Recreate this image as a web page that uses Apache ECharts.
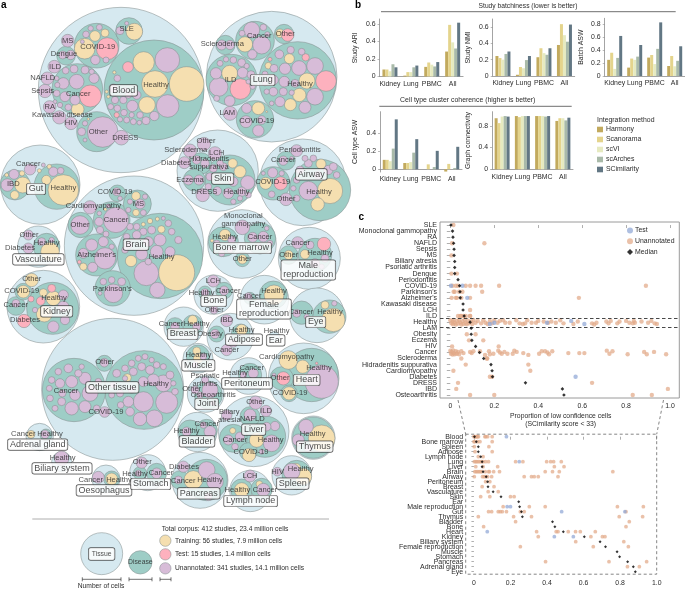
<!DOCTYPE html>
<html><head><meta charset="utf-8">
<style>html,body{margin:0;padding:0;background:#fff}#c{width:685px;height:589px}</style>
<script src="https://cdn.jsdelivr.net/npm/echarts@6/dist/echarts.min.js"></script>
</head><body><div id="c"></div>
<script>
// ---------- Panel a: bubbles [x, y, r, kind], kind 0 tissue,1 disease,2 training,3 test,4 unannotated
// units are thirds of a pixel on the hidden pack axes
const packUpper = [
[363,270,248,0],[815,230,196,0],
[462,270,150,1],[431,187,32,2],[502,180,37,4],[560,252,52,2],[465,252,40,2],[384,201,16,3],[503,318,34,4],[441,315,25,2],[397,318,17,4],[340,265,13,4],[352,235,10,4],[343,217,5,2],[345,300,11,4],[370,300,11,4],[332,320,9,4],[352,325,10,4],[372,338,10,4],[350,345,8,3],[380,360,9,4],[360,358,8,4],[400,365,9,4],[420,345,10,4],[438,362,12,4],[463,348,14,4],[418,368,7,4],[325,290,5,2],[320,275,5,2],[395,345,8,4],[410,285,13,4],[385,285,10,4],[375,270,8,4],
[232,267,76,1],[271,288,33,3],[233,328,19,2],[230,245,22,4],[190,250,17,4],[222,207,12,4],[255,210,12,4],[197,212,10,4],[282,235,15,4],[172,255,8,4],[170,235,7,4],[275,215,8,4],[170,280,10,4],[195,290,15,4],[225,300,15,4],[180,315,8,4],[205,322,10,4],[165,305,6,4],
[290,137,67,1],[322,146,33,3],[254,146,31,2],[285,108,16,2],[315,99,12,2],[286,180,14,4],[258,103,10,4],[272,85,8,4],[298,82,9,4],[318,180,9,4],[247,125,6,4],
[387,93,40,1],[403,95,25,2],[360,92,12,4],[380,70,6,4],
[290,395,60,1],[308,396,46,4],[245,395,12,4],[255,370,8,4],[255,420,6,4],[265,357,4,2],
[203,122,19,4],[198,167,28,1],[212,165,14,4],[188,165,12,4],[163,200,19,4],[142,235,19,4],[135,273,20,4],[149,321,19,4],[178,352,20,4],[213,370,19,4],[364,413,22,4],
[893,241,116,1],[978,243,31,3],[945,198,25,4],[921,243,24,2],[917,172,11,3],[897,204,22,4],[868,176,15,2],[872,150,11,4],[838,163,13,4],[905,155,10,4],[855,206,17,4],[810,178,6,3],[805,197,10,2],[822,205,12,4],[795,222,9,4],[820,240,15,4],[853,245,16,4],[795,250,8,4],[885,250,12,4],[898,285,20,2],[945,290,25,4],[915,322,18,4],[871,314,18,2],[840,305,15,4],[820,275,13,4],[850,275,12,4],[800,275,8,4],[815,310,7,4],[875,278,8,4],
[695,240,77,1],[721,267,31,3],[689,220,24,2],[656,261,28,4],[648,220,17,4],[689,303,16,4],[728,218,16,4],[700,180,10,4],[678,178,8,4],[660,190,9,4],[725,188,12,4],[753,224,12,4],[758,260,8,4],[650,295,9,4],[745,245,7,4],[740,198,8,4],
[765,122,58,1],[755,90,24,4],[735,133,23,2],[785,135,27,4],[757,163,14,4],[790,82,10,4],[726,100,9,4],[802,103,8,4],
[852,102,29,1],[863,105,19,3],[840,100,13,2],
[676,135,29,1],[665,135,15,4],[690,135,14,4],
[765,358,56,1],[775,325,19,2],[775,392,17,4],[740,325,15,4],[738,365,18,4],[785,360,13,4],[800,335,3,2],[690,340,21,4]
];
const packMiddle = [
[653,122,122,0],[908,157,130,0],[121,164,119,0],[402,347,209,0],[726,342,103,0],[928,385,93,0],[115,350,62,0],[130,530,109,0],[641,494,59,0],[793,509,73,0],[951,556,82,0],[551,590,59,0],[691,620,70,0],[823,620,16,0],
[690,150,75,1],[720,125,18,2],[698,100,14,2],[743,158,21,4],[700,155,14,4],[670,110,12,4],[640,115,12,4],[630,140,12,4],[660,100,10,4],[685,190,16,4],[725,185,14,4],[652,183,13,4],[745,195,9,4],[720,205,8,4],[625,170,10,4],[700,215,8,4],
[570,62,20,4],[612,42,20,4],[645,70,20,4],[603,100,32,1],[590,90,13,4],[615,100,13,4],[553,98,18,4],[583,150,33,1],[565,150,15,4],[597,150,15,4],[608,195,20,4],
[960,180,92,1],[990,183,38,2],[953,223,20,2],[963,102,15,2],[925,182,28,4],[900,120,12,4],[925,100,12,4],[940,85,10,4],[915,85,9,4],[985,120,14,4],[955,135,12,4],[890,150,10,4],[880,175,8,4],[890,205,10,4],[1000,110,12,4],[1010,135,10,4],
[820,160,50,1],[842,160,20,3],[797,160,18,2],[818,128,15,4],[845,130,8,4],[815,193,10,4],[790,130,6,4],
[858,92,28,1],[850,92,14,4],[875,85,6,4],[890,62,18,4],[858,208,19,4],
[170,170,68,1],[190,180,46,2],[160,125,14,4],[182,122,10,4],[139,150,14,2],[148,110,7,2],[118,122,6,2],[130,105,6,4],[105,110,5,4],
[45,165,45,1],[68,165,24,2],[22,165,19,4],[42,133,15,4],[44,195,13,2],[66,130,8,2],[20,135,6,2],[90,118,17,4],
[480,378,128,1],[530,428,54,2],[439,430,37,4],[472,480,23,4],[393,393,17,2],[484,298,11,2],[450,273,8,2],[472,267,6,2],[430,283,6,2],[505,280,10,4],[490,265,6,4],[410,290,10,4],[390,290,10,4],[430,305,11,4],[455,300,12,4],[410,315,13,4],[380,320,10,4],[385,345,12,4],[480,330,18,4],[515,305,10,4],[535,330,11,4],[445,335,15,4],[425,372,18,4],[470,365,19,4],[510,365,15,4],[375,360,10,4],[445,395,10,4],
[335,270,55,1],[348,270,38,4],[297,275,13,4],[300,300,11,4],[318,312,9,4],[298,250,7,4],[316,238,5,2],[325,228,7,4],
[412,222,42,1],[408,198,13,2],[408,248,10,2],[420,222,15,4],[390,215,8,4],[385,240,8,4],[430,248,9,4],[435,200,8,4],
[352,190,25,1],[350,185,12,4],[360,205,7,4],[270,232,20,4],[242,285,38,1],[240,285,28,4],
[290,375,63,1],[315,385,32,4],[275,345,18,4],[310,335,15,4],[250,410,11,2],[238,396,6,3],[278,412,15,4],[250,370,15,4],[335,350,8,4],
[338,475,53,1],[340,490,28,4],[310,455,10,4],[365,455,12,4],[335,450,10,4],[300,490,6,4],
[670,335,45,1],[675,315,17,2],[695,330,12,4],[650,340,10,4],[665,370,10,4],[690,360,9,4],[636,332,5,2],
[780,325,47,1],[758,322,15,4],[790,320,16,4],[775,350,10,4],[810,340,9,4],[800,295,7,4],[727,292,22,4],[727,388,22,1],[727,388,14,2],
[945,375,50,1],[972,342,20,3],[915,373,14,2],[930,345,12,4],[945,400,14,4],[975,385,12,4],[965,410,8,4],[866,375,28,1],[866,375,14,2],[893,338,18,4],
[140,350,40,1],[150,365,28,2],[125,335,12,4],[155,330,8,4],[85,315,15,4],[85,355,16,4],
[158,535,78,1],[155,475,12,3],[122,513,13,3],[93,507,9,3],[133,552,24,2],[130,488,12,2],[160,505,22,2],[190,495,15,4],[190,530,17,4],[160,590,17,4],[195,570,14,4],[105,540,8,4],
[48,528,28,1],[48,520,12,4],[70,485,25,1],[70,485,19,2],[95,450,20,2],[72,573,20,3],
[640,453,18,4],[615,488,20,1],[615,488,12,4],[672,482,25,1],[672,482,14,4],[642,540,12,4],
[820,495,42,1],[822,495,30,2],[750,505,18,1],[745,500,12,4],
[988,560,50,1],[1000,570,35,2],[975,525,12,2],[1003,520,8,4],[905,548,35,1],[890,550,12,4],[920,560,8,4],
[525,590,27,1],[525,590,13,4],[578,585,30,1],[578,570,14,2],[590,590,12,4],
[680,572,18,4],[650,612,24,1],[645,612,14,4],[722,610,28,1],[725,600,17,2],[680,660,17,4],[700,640,12,4]
];
const packLower = [
[338,148,213,0],[594,55,45,0],[745,108,55,0],[911,115,106,0],[617,162,55,0],[761,274,106,0],[592,276,59,0],[940,293,65,0],[119,291,41,0],[185,365,30,0],[318,417,42,0],[443,398,54,0],[600,421,84,0],[751,453,62,0],[875,406,59,0],
[432,150,118,1],[500,187,33,4],[430,185,30,4],[463,235,25,4],[420,237,20,4],[490,130,25,4],[460,120,18,4],[385,185,16,4],[350,100,12,4],[375,85,10,4],[395,70,10,4],[415,55,9,4],[435,50,9,4],[455,60,8,4],[470,75,10,4],[490,80,9,4],[510,105,12,4],[520,130,8,4],[525,155,10,4],[375,115,8,4],[400,95,12,4],[425,80,12,4],[450,90,13,4],[382,113,12,2],[430,125,15,4],[340,135,10,4],[335,165,9,4],[360,160,11,4],[395,150,10,4],[390,215,13,4],[362,195,10,4],
[222,150,95,1],[255,200,18,4],[215,125,18,4],[215,205,20,4],[255,115,18,4],[270,160,24,4],[180,130,14,4],[155,120,10,4],[205,85,13,4],[235,100,11,4],[175,95,10,4],[148,145,9,4],[185,185,12,4],[150,175,10,4],[165,205,9,4],[225,165,16,4],[187,160,11,4],[290,205,10,4],[295,125,10,4],[245,80,8,4],
[314,216,16,4],[313,70,24,1],[313,68,13,4],
[594,50,35,1],[590,33,12,2],[595,55,15,2],[610,50,10,4],[585,75,10,4],
[750,105,35,1],[760,100,15,4],[730,105,10,4],
[935,105,80,1],[965,125,50,4],[908,80,20,2],[892,120,12,2],[865,60,28,2],[845,115,35,1],[850,115,20,3],[867,160,25,1],[867,160,20,2],[822,105,6,4],[950,70,4,3],
[625,165,42,1],[630,150,24,4],[600,165,10,4],[640,190,8,4],[585,150,12,4],[615,120,11,4],
[795,290,62,1],[770,300,22,2],[825,258,14,4],[815,310,25,4],[800,260,13,4],[785,335,8,4],
[700,295,42,1],[698,272,9,2],[685,300,15,4],[720,290,14,4],[705,320,10,4],[745,335,27,1],[747,345,20,2],[798,213,17,4],[767,188,20,4],[680,225,16,4],[750,230,30,1],[750,225,18,4],
[570,275,35,1],[560,275,14,4],[620,270,32,1],[630,275,18,4],[610,255,10,4],
[940,293,62,1],[965,295,40,2],[895,300,18,4],[918,260,22,4],[925,325,12,4],
[93,283,12,2],[138,285,18,1],[135,283,13,4],[185,355,22,4],
[335,417,24,1],[335,417,18,2],[295,412,18,4],[425,368,17,4],[420,400,20,1],[415,400,10,4],[470,400,30,1],[470,400,16,4],
[620,420,62,1],[580,420,28,2],[620,390,25,4],[645,425,25,4],[625,470,12,4],[550,380,17,4],[540,420,28,1],[535,420,12,4],
[750,408,18,4],[725,450,33,1],[725,450,22,2],[785,447,32,1],[790,450,20,4],[778,432,10,2],
[890,405,44,1],[910,410,25,2],[875,395,25,4],[888,385,15,2],[832,395,13,4]
];
// Key bubbles below panel a, in the same lower frame
const keyBubbles = [[305,641,63,0],[421,667,35,1],[496,602,17,2],[496,643,17,3],[496,685,17,4]];

// Text of panel a [text, x, y], tissue names in a box
const labelsUpper = [["SLE",380,88],["COVID-19",293,141],["MS",203,122],["Dengue",192,163],["ILD",165,202],["NAFLD",128,233],["Sepsis",128,272],["Cancer",235,281],["RA",149,320],["Kawasaki disease",187,344],["HIV",213,370],["Other",295,397],["DRESS",376,414],["Healthy",468,254],["Scleroderma",667,132],["Cancer",778,109],["Other",856,101],["ILD",692,240],["Healthy",900,251],["LAM",682,340],["COVID-19",770,364]];
const labelsMiddle = [["Other",618,33],["Scleroderma",557,60],["LCH",650,70],["Diabetes",528,98],["Hidradenitis\nsuppurativa",627,98],["Eczema",570,150],["Healthy",710,185],["DRESS",613,187],["Periodontitis",900,60],["Cancer",850,91],["COVID-19",818,155],["Healthy",957,187],["Other",858,207],["Cancer",85,102],["IBD",40,162],["Healthy",190,174],["COVID-19",345,186],["MS",415,222],["Cardiomyopathy",280,227],["Cancer",348,271],["Other",240,286],["Alzheimer's",290,375],["Healthy",485,382],["Parkinson's",337,476],["Monoclonal\ngammopathy",730,270],["Healthy",675,322],["Cancer",780,321],["Other",727,386],["Cancer",893,338],["Other",866,375],["Healthy",960,368],["Other",87,314],["Healthy",140,338],["Diabetes",60,355],["Other",95,447],["COVID-19",65,483],["Healthy",162,503],["Cancer",47,526],["Diabetes",75,571],["LCH",640,453],["Healthy",605,488],["Cancer",685,484],["Other",643,540],["Healthy",822,483],["Cancer",748,498],["Cancer",903,546],["Healthy",990,546],["Cancer",513,581],["Healthy",590,581],["IBD",680,571],["Healthy",725,600],["Obesity",630,613],["Cancer",680,659],["Healthy",830,604]];
const labelsLower = [["Other",314,65],["Healthy",468,131],["Cancer",198,153],["COVID-19",318,216],["Healthy",595,45],["Cardiomyopathy",860,50],["Healthy",957,83],["Other",840,115],["COVID-19",870,160],["Cancer",755,84],["Healthy",705,100],["Psoriatic\narthritis",615,120],["Other",575,148],["Osteoarthritis",640,165],["Other",767,187],["ILD",798,213],["Biliary\natresia",688,228],["NAFLD",757,236],["Cancer",705,300],["Healthy",812,299],["COVID-19",753,335],["Cancer",620,253],["Healthy",560,274],["Healthy",938,281],["Cancer",70,282],["Healthy",150,282],["Healthy",188,355],["Cancer",272,419],["Healthy",357,419],["Other",427,366],["Healthy",405,401],["Cancer",483,400],["Diabetes",552,381],["Cancer",550,423],["Healthy",630,420],["LCH",750,408],["Healthy",712,450],["Cancer",795,450],["HIV",833,395],["Healthy",902,388]];
const tissueBoxesMiddle = [["Skin",668,146],["Airway",934,133],["Gut",108,177],["Brain",408,344],["Bone marrow",727,354],["Male\nreproduction",925,420],["Vasculature",115,388],["Kidney",170,544],["Bone",641,513],["Female\nreproduction",792,537],["Eye",947,576],["Breast",548,612],["Adipose",732,629],["Ear",827,631]];
const tissueBoxesUpper = [["Blood",371,271],["Lung",788,240]];
const tissueBoxesLower = [["Other tissue",337,142],["Muscle",595,76],["Heart",920,120],["Peritoneum",741,130],["Joint",620,192],["Liver",761,269],["Bladder",591,304],["Thymus",944,320],["Adrenal gland",113,314],["Biliary system",186,385],["Oesophagus",312,451],["Stomach",452,432],["Pancreas",596,460],["Lymph node",752,483],["Spleen",878,431]];

// ---------- Panel b
const methods = ["Harmony","Scanorama","scVI","scArches","SCimilarity"];
const datasets = ["Kidney","Lung","PBMC","All"];
const studyAri = [[.08,.01,.11,.285],[.08,.05,.16,.59],[.06,.05,.135,.39],[.14,.105,.115,.32],[.105,.125,.165,.615]];
const studyNmi = [[.245,.015,.23,.38],[.22,.11,.34,.635],[.2,.095,.28,.5],[.27,.195,.26,.42],[.3,.245,.34,.63]];
const batchAsw = [[.25,.13,.285,.155],[.36,.27,.325,.31],[.11,.25,.185,.15],[.28,.3,.42,.235],[.62,.48,.83,.46]];
const cellTypeAsw = [[.105,.07,0,-.025],[.105,.07,.055,.06],[.09,.08,0,0],[.23,.185,.025,.015],[.555,.335,.205,.25]];
const graphConn = [[.94,.98,.98,.89],[.85,.96,.98,.94],[.97,.98,.98,.94],[.98,.98,.97,.9],[.97,.98,.98,.95]];

// ---------- Panel c, upper: diseases
const diseaseRows = ["SLE","Monoclonal gammopathy","RA","NAFLD","Sepsis","MS","Biliary atresia","Psoriatic arthritis","Dengue","Periodontitis","COVID-19","Parkinson's","Alzheimer's","Kawasaki disease","LCH","ILD","Healthy","LAM","Obesity","Eczema","HIV","Cancer","Scleroderma","Hidradenitis suppurativa","Cardiomyopathy","Diabetes","DRESS","IBD","Osteoarthritis"];
const diseaseMedian = [.003,.01,.012,.015,.017,.017,.02,.02,.02,.035,.042,.044,.045,.058,.058,.063,.09,.095,.095,.098,.115,.133,.152,.185,.19,.192,.342,.51,.517];
const diseaseUnannotated = [[.014],[],[],[.008,.155],[],[.005],[],[],[.005,.03],[],[.01,.025,.035,.07,.09,.115,.14,.222,.89],[.015,.02,.04,.055,.145],[.006,.025,.03,.05,.09,.585],[],[.09],[.035,.045,.05,.06,.07,.09,.09],[],[],[.075,.115],[.085,.15],[.008,.22],[],[.05,.168],[.07,.355],[.014,.364],[.18,.19],[.035,.645],[.027,.99],[.09,.2,.83,.917]];
const diseaseTest = [[.003,10],[.055,10],[.077,12],[.57,25]];
const healthyUnannotated = [[0,-.3],[.005,.2],[.01,-.1],[.012,.35],[.015,-.35],[.02,.1],[.025,.4],[.03,-.2],[.035,.25],[.04,-.35],[.045,.05],[.05,.4],[.055,-.15],[.06,.3],[.065,-.4],[.07,.1],[.075,.35],[.08,-.25],[.085,.2],[.095,-.1],[.1,.3],[.105,-.35],[.115,.1],[.125,-.2],[.14,.2],[.15,-.3],[.16,.1],[.17,.3],[.18,-.2],[.19,.2],[.2,-.3],[.215,.1],[.225,-.2],[.24,-.3],[.25,.1],[.27,.1],[.3,-.3],[.315,.2],[.33,.3],[.34,.2],[.35,-.3],[.37,.1],[.39,.1],[.4,-.2],[.425,-.1],[.445,.1],[.46,-.1],[.48,.1],[.5,-.3],[.515,.2],[.56,.3],[.58,-.1],[.645,.2],[.655,.4],[.665,.1],[.71,-.1],[.72,.2],[.73,-.2],[.76,.2],[.77,-.1],[.8,-.2],[.815,.1],[.83,.2],[.835,-.2],[.84,.1],[.87,-.1],[.9,.1],[.915,-.2],[.93,.2],[.94,.3]];
const healthyTest = [[.18,.3],[.2,.1],[.44,.1],[.55,-.2],[.61,.3]];
const cancerUnannotated = [[0,-.3],[.003,.2],[.006,-.1],[.01,.35],[.013,-.35],[.016,.1],[.02,.3],[.025,-.2],[.03,.2],[.035,-.1],[.04,.3],[.05,-.2],[.06,.1],[.09,-.1],[.097,.1],[.105,-.2],[.135,-.2],[.158,.4],[.166,1],[.176,-.2],[.18,.3],[.196,.2],[.218,-.3],[.226,0],[.234,.2],[.246,-.1],[.26,.2],[.284,.2],[.291,-.3],[.302,-.1],[.332,.1],[.355,.4],[.404,.2],[.416,-.2],[.431,-.2],[.442,0],[.449,.3],[.464,-.2],[.537,.1],[.587,.1],[.61,.1],[.712,-.3],[.724,.2],[.738,-.2],[.807,.3],[.882,-.1],[.894,.3],[.927,-.1],[.982,.3]];

// ---------- Panel c, lower: tissues
const tissueRows = ["Blood","Bone marrow","Spleen","Adipose","Lymph node","Lung","Liver","Brain","Airway","Peritoneum","Breast","Vasculature","Skin","Ear","Male reproduction","Gut","Thymus","Bladder","Bone","Heart","Kidney","Biliary system","Female reproduction","Muscle","Stomach","Pancreas","Adrenal gland","Eye"];
const tissueMedian = [.003,.013,.024,.024,.037,.045,.045,.05,.067,.075,.077,.105,.148,.245,.25,.26,.265,.43,.443,.489,.604,.69,.72,.783,.797,.841,.872,.883];
const tissueUnannotated = [[0,.005,.01,.015,.02,.025,.06,.065,.075,.1],[0,.005,.02,.033,.1],[.002,.082],[.006,.1],[.024,.05],[.002,.01,.016,.024,.033,.042,.05,.064,.08,.228,.268,.398,.42,.436,.478],[.01,.05,.13,.44,.493],[.005,.012,.02,.028,.036,.044,.062,.08,.085,.108,.14,.39,.43,.467,.76],[.002,.047,.056,.064,.075,.097,.275,.315,.33,.352,.46],[.064,.087],[.045,.11],[.078,.133],[.037,.087,.2,.22],[],[.16,.303,.39,.785,.927],[.08,.097,.133,.144,.155,.178,.254,.275,.832],[.024,.217,.315,.795,.923],[.228,.85],[.053,.832],[.343,.45,.46,.516,.556,.582,.664],[.352,.64,.703,.717],[.557,.82],[.254,.653,.845],[],[],[.392,.739,.945],[.84,.905],[]];
const tissueTest = [[.178,0],[.248,5],[.182,14],[.2,14],[.48,15],[.826,15],[.073,19],[.44,20],[.544,20]];

// ---------- Drawing
const FONT = '"Liberation Sans",Arial,sans-serif';
const INK = '#2b2b2b', AXIS = '#8d8d8d';
const BUBBLE = ['#d6e9f0','#9ecdc6','#f5dfb0','#fdb1be','#d7bcd8'];
const BARS = ['#c2aa5e','#e4d48c','#e6eac0','#a9baa9','#627784'];
const DOT = '#e2a988', DOT_TEST = '#8fa6d6';

const allBubbles = [
  ...packUpper,
  ...packMiddle.map(b=>[b[0],b[1]+390,b[2],b[3]]),
  ...packLower.map(b=>[b[0],b[1]+1020,b[2],b[3]]),
  ...keyBubbles.map(b=>[b[0],b[1]+1020,b[2],b[3]])
];
const series = [];
[0,1,2,3,4].forEach(k=>{
  series.push({type:'scatter',xAxisIndex:0,yAxisIndex:0,silent:true,z:2+k,
    data:allBubbles.filter(b=>b[3]===k).map(b=>[b[0],b[1],b[2]]),
    symbolSize:v=>v[2]*2/3,
    itemStyle:{color:BUBBLE[k],borderColor:'#84908f',borderWidth:.55,opacity:1}});
});
const plainLabels = [
  ...labelsUpper,
  ...labelsMiddle.map(l=>[l[0],l[1],l[2]+390]),
  ...labelsLower.map(l=>[l[0],l[1],l[2]+1020])
];
const boxLabels = [
  ...tissueBoxesUpper,
  ...tissueBoxesMiddle.map(l=>[l[0],l[1],l[2]+390]),
  ...tissueBoxesLower.map(l=>[l[0],l[1],l[2]+1020])
];
series.push({type:'scatter',xAxisIndex:0,yAxisIndex:0,silent:true,z:10,symbolSize:1,
  itemStyle:{color:'transparent'},
  data:plainLabels.map(l=>({value:[l[1],l[2]],name:l[0]})),
  label:{show:true,position:'inside',formatter:'{b}',fontFamily:FONT,fontSize:7.6,lineHeight:7.8,color:'#1f1f1f',align:'center',verticalAlign:'middle'},
  labelLayout:{hideOverlap:false}});
series.push({type:'scatter',xAxisIndex:0,yAxisIndex:0,silent:true,z:11,symbolSize:1,
  itemStyle:{color:'transparent'},
  data:boxLabels.map(l=>({value:[l[1],l[2]],name:l[0]})),
  label:{show:true,position:'inside',formatter:'{b}',fontFamily:FONT,fontSize:9,lineHeight:8.8,color:'#1a1a1a',align:'center',verticalAlign:'middle',
    backgroundColor:'#fff',borderColor:'#333',borderWidth:.7,borderRadius:2,padding:[1,2]}});
// key labels
series.push({type:'scatter',xAxisIndex:0,yAxisIndex:0,silent:true,z:11,symbolSize:1,itemStyle:{color:'transparent'},
  data:[{value:[305,1662],name:'Tissue'}],
  label:{show:true,position:'inside',formatter:'{b}',fontFamily:FONT,fontSize:6.8,color:'#222',backgroundColor:'#fff',borderColor:'#333',borderWidth:.7,borderRadius:2,padding:[2.5,3]}});
series.push({type:'scatter',xAxisIndex:0,yAxisIndex:0,silent:true,z:11,symbolSize:1,itemStyle:{color:'transparent'},
  data:[{value:[421,1687],name:'Disease'}],
  label:{show:true,position:'inside',formatter:'{b}',fontFamily:FONT,fontSize:6.8,color:'#222'}});

const bars = [
  {d:studyAri,name:'Study ARI',left:379.5,top:19,w:83.6,h:57.5,min:0,max:.657,ticks:[0,.2,.4,.6],gap:21},
  {d:studyNmi,name:'Study NMI',left:492.7,top:19,w:82,h:57,min:0,max:.698,ticks:[0,.2,.4,.6],gap:21},
  {d:batchAsw,name:'Batch ASW',left:604.7,top:18.3,w:80,h:57.7,min:0,max:.893,ticks:[0,.2,.4,.6,.8],gap:20},
  {d:cellTypeAsw,name:'Cell type ASW',left:380,top:111.7,w:82,h:60.3,min:-.03,max:.64,ticks:[0,.2,.4],gap:21.5},
  {d:graphConn,name:'Graph connectivity',left:492,top:111.7,w:81,h:57.6,min:0,max:1.06,ticks:[0,.4,.8],gap:20}
];
const grids=[{left:0,top:0,width:685,height:589}], xAxes=[{gridIndex:0,type:'value',min:0,max:2055,show:false}], yAxes=[{gridIndex:0,type:'value',min:0,max:1767,inverse:true,show:false}];
const tick2 = v=> v===0?'0':(+v).toFixed(1);
bars.forEach((b,i)=>{
  const g=grids.length;
  grids.push({left:b.left,top:b.top,width:b.w,height:b.h});
  xAxes.push({gridIndex:g,type:'category',data:datasets,axisTick:{show:false},
    axisLine:{onZero:true,lineStyle:{color:AXIS,width:.8}},
    axisLabel:{fontFamily:FONT,fontSize:6.9,color:INK,margin:4,interval:0,hideOverlap:false}});
  yAxes.push({gridIndex:g,type:'value',min:b.min,max:b.max,splitLine:{show:false},
    name:b.name,nameLocation:'middle',nameGap:b.gap,nameTextStyle:{fontFamily:FONT,fontSize:6.9,color:INK},
    axisLine:{show:true,lineStyle:{color:AXIS,width:.8}},
    axisTick:{show:true,length:2,lineStyle:{color:AXIS,width:.6},customValues:b.ticks},
    axisLabel:{fontFamily:FONT,fontSize:6.9,color:INK,margin:4,customValues:b.ticks,formatter:tick2}});
  methods.forEach((m,j)=>{
    series.push({type:'bar',name:m,xAxisIndex:g,yAxisIndex:g,data:b.d[j],barWidth:3,barGap:'0%',silent:true,
      itemStyle:{color:BARS[j]},z:3});
  });
});

// Upper scatter
const gT=grids.length;
grids.push({left:440,top:222,width:239.3,height:176,show:true,borderColor:'#9a9a9a',borderWidth:1,backgroundColor:'transparent'});
const xt={fontFamily:FONT,fontSize:6.9,color:INK,margin:5,customValues:[0,.2,.4,.6,.8,1],formatter:tick2};
xAxes.push({gridIndex:gT,type:'value',min:-.047,max:1.042,splitLine:{show:false},axisLine:{show:false},
  axisTick:{show:true,length:3,lineStyle:{color:AXIS,width:.7},customValues:[0,.2,.4,.6,.8,1]},axisLabel:xt});
const yT=yAxes.length;
yAxes.push({gridIndex:gT,type:'category',inverse:true,data:diseaseRows,splitLine:{show:false},axisLine:{show:false},
  axisTick:{show:true,alignWithLabel:true,length:3.5,lineStyle:{color:AXIS,width:.7}},
  axisLabel:{fontFamily:FONT,fontSize:7,color:INK,margin:3,interval:0,hideOverlap:false}});
yAxes.push({gridIndex:gT,type:'value',inverse:true,min:-.5,max:28.5,show:false});
const tUn=[];diseaseUnannotated.forEach((r,i)=>r.forEach(x=>tUn.push([x,i])));
healthyUnannotated.forEach(p=>tUn.push([p[0],16+p[1]]));
cancerUnannotated.forEach(p=>tUn.push([p[0],21+p[1]]));
const tTe=[...diseaseTest,...healthyTest.map(p=>[p[0],16+p[1]])];
const dotStyle=(c)=>({color:c,opacity:.72,borderWidth:0});
series.push({type:'scatter',name:'Unannotated',xAxisIndex:gT,yAxisIndex:yT+1,data:tUn,symbolSize:4.4,itemStyle:dotStyle(DOT),silent:true,z:3,
  markLine:{silent:true,symbol:'none',animation:false,label:{show:false},lineStyle:{type:[3.5,2.5],color:'#333',width:.9},data:[{yAxis:15.3},{yAxis:16.8}]}});
series.push({type:'scatter',name:'Test',xAxisIndex:gT,yAxisIndex:yT+1,data:tTe,symbolSize:4.4,itemStyle:dotStyle(DOT_TEST),silent:true,z:4});
series.push({type:'scatter',name:'Median',xAxisIndex:gT,yAxisIndex:yT+1,data:diseaseMedian.map((x,i)=>[x,i]),symbol:'diamond',symbolSize:3.6,itemStyle:{color:'#000'},silent:true,z:5});

// Lower scatter
const gB=grids.length;
grids.push({left:465.7,top:434.2,width:191,height:140});
xAxes.push({gridIndex:gB,type:'value',min:-.045,max:1,splitLine:{show:false},axisLine:{show:false},
  axisTick:{show:true,length:3,lineStyle:{color:AXIS,width:.7},customValues:[0,.2,.4,.6,.8,1]},axisLabel:xt});
const yB=yAxes.length;
yAxes.push({gridIndex:gB,type:'category',inverse:true,data:tissueRows,splitLine:{show:false},axisLine:{show:false},
  axisTick:{show:true,alignWithLabel:true,length:2.5,lineStyle:{color:AXIS,width:.7}},
  axisLabel:{fontFamily:FONT,fontSize:7,color:INK,margin:2.5,interval:0,hideOverlap:false}});
yAxes.push({gridIndex:gB,type:'value',inverse:true,min:-.5,max:27.5,show:false});
const bUn=[];tissueUnannotated.forEach((r,i)=>r.forEach(x=>bUn.push([x,i])));
series.push({type:'scatter',name:'Unannotated',xAxisIndex:gB,yAxisIndex:yB+1,data:bUn,symbolSize:3.8,itemStyle:dotStyle(DOT),silent:true,z:3});
series.push({type:'scatter',name:'Test',xAxisIndex:gB,yAxisIndex:yB+1,data:tissueTest,symbolSize:3.8,itemStyle:dotStyle(DOT_TEST),silent:true,z:4});
series.push({type:'scatter',name:'Median',xAxisIndex:gB,yAxisIndex:yB+1,data:tissueMedian.map((x,i)=>[x,i]),symbol:'diamond',symbolSize:3,itemStyle:{color:'#000'},silent:true,z:5});

const text=(t,x,y,o={})=>({type:'text',x,y,silent:true,z:20,style:Object.assign({text:t,fontFamily:FONT,fontSize:6.9,fill:INK,textAlign:'left',textVerticalAlign:'middle'},o)});
const line=(a,b,c,d,o={})=>({type:'line',silent:true,z:20,shape:{x1:a,y1:b,x2:c,y2:d},style:Object.assign({stroke:'#7a7a7a',lineWidth:.9},o)});
const dash={stroke:'#666',lineWidth:.8,lineDash:[3,2.5]};
const graphic=[
  text('a',1,5,{fontSize:10,fontWeight:'bold',fill:'#000'}),
  text('b',355,5,{fontSize:10,fontWeight:'bold',fill:'#000'}),
  text('c',358.5,217.5,{fontSize:10,fontWeight:'bold',fill:'#000'}),
  text('Study batchiness (lower is better)',528,6.3,{textAlign:'center',fontSize:6.7}),
  line(381,11.7,675.7,11.7,{stroke:'#6f6f6f',lineWidth:1}),
  text('Cell type cluster coherence (higher is better)',467.7,100.3,{textAlign:'center'}),
  line(379.3,106.3,571.7,106.3,{stroke:'#6f6f6f',lineWidth:1}),
  text('Integration method',597,120.3),
  text('Proportion of low confidence cells',560.7,416,{textAlign:'center',fontSize:6.8}),
  text('(SCimilarity score < 33)',560.7,424.3,{textAlign:'center',fontSize:6.8}),
  {type:'rect',silent:true,z:1,shape:{x:465.7,y:434.2,width:191,height:140},style:{fill:'none',stroke:'#666',lineWidth:.8,lineDash:[3,2.5]}},
  line(458,400,465.7,434.2,dash),
  line(663.5,400,656.7,434.2,dash),
  // panel a key
  line(32.3,519,329,519,{stroke:'#a5a5a5',lineWidth:.9}),
  text('Total corpus: 412 studies, 23.4 million cells',161.7,529,{fontSize:6.7}),
  text('Training: 56 studies, 7.9 million cells',175,540.7,{fontSize:6.7}),
  text('Test: 15 studies, 1.4 million cells',175,554.5,{fontSize:6.7}),
  text('Unannotated: 341 studies, 14.1 million cells',175,568.3,{fontSize:6.7}),
  text('Number of cells',101,586,{fontSize:6.7,textAlign:'center'})
];
[[82.3,121],[129,152],[160,171]].forEach(s=>{
  graphic.push(line(s[0],579.3,s[1],579.3,{stroke:'#333',lineWidth:.7}));
  graphic.push(line(s[0],577.3,s[0],581.3,{stroke:'#333',lineWidth:.7}));
  graphic.push(line(s[1],577.3,s[1],581.3,{stroke:'#333',lineWidth:.7}));
});

const chart=echarts.init(document.getElementById('c'),null,{renderer:'canvas'});
chart.setOption({
  animation:false,backgroundColor:'#fff',
  textStyle:{fontFamily:FONT},
  grid:grids,xAxis:xAxes,yAxis:yAxes,series,graphic,
  legend:[
    {data:methods,orient:'vertical',left:597,top:126,itemWidth:6,itemHeight:5.6,itemGap:3,selectedMode:false,icon:'rect',padding:0,
      textStyle:{fontFamily:FONT,fontSize:6.9,color:INK,padding:[0,0,0,-2]}},
    {data:['Test','Unannotated','Median'],orient:'vertical',left:627,top:227,itemWidth:6,itemHeight:6,itemGap:3.8,selectedMode:false,padding:0,
      textStyle:{fontFamily:FONT,fontSize:6.9,color:INK,padding:[0,0,0,-3]}}
  ]
});
</script></body></html>
